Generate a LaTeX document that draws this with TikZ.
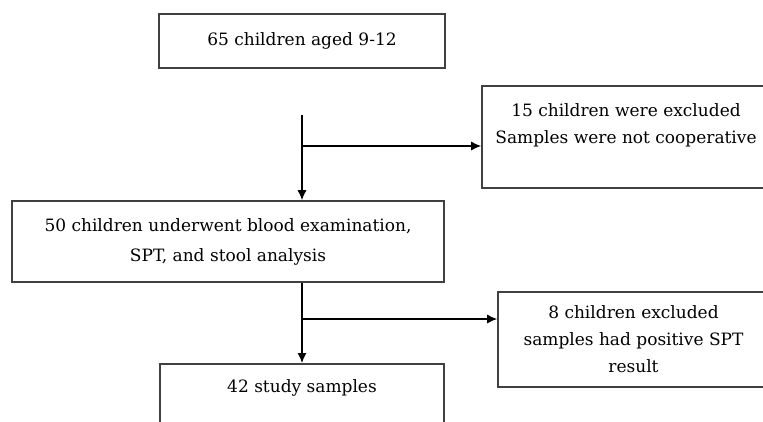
\documentclass[tikz,border=0pt]{standalone}
\usepackage{fontspec}
\setmainfont{DejaVu Serif}
\usetikzlibrary{arrows.meta,calc}
\tikzset{%
stage/.style={draw=black!75,line width=1.6pt,align=center,inner sep=0pt,
              font=\fontsize{17}{27}\selectfont},
flow/.style={draw,line width=1.3pt,-{Latex[length=10pt,width=9pt]}}
}

\begin{document}
\begin{tikzpicture}[x=1pt,y=1pt]
\useasboundingbox (0,0) rectangle (763,-421);
\clip (0,0) rectangle (763,-421);
\node[stage,minimum width=286,minimum height=54]  (cohort) at (302,-41)      {65 children aged 9-12};
\node[stage,minimum width=288,minimum height=102] (dropA)  at (626,-137)     {15 children were excluded\\Samples were not cooperative\\\mbox{}};
\node[stage,minimum width=432,minimum height=81,
      font=\fontsize{17}{30}\selectfont]          (tested) at (228,-241.5)   {50 children underwent blood examination,\\SPT, and stool analysis};
\node[stage,minimum width=271,minimum height=95]  (dropB)  at (633.5,-339.5) {8 children excluded\\samples had positive SPT\\result};
\node[stage,minimum width=284,minimum height=98,
      anchor=north]                               (study)  at (302,-363)     {42 study samples\\\mbox{}\\\mbox{}};

\coordinate (trunkA) at (302,-115);
\coordinate (forkA)  at (302,-146);
\coordinate (forkB)  at (302,-319);

\draw[flow] (trunkA) -- (trunkA |- tested.north);
\draw[flow] (forkA) -- (forkA -| dropA.west);
\draw[flow] (tested.south -| study.north) -- (study.north);
\draw[flow] (forkB) -- (forkB -| dropB.west);
\end{tikzpicture}
\end{document}
